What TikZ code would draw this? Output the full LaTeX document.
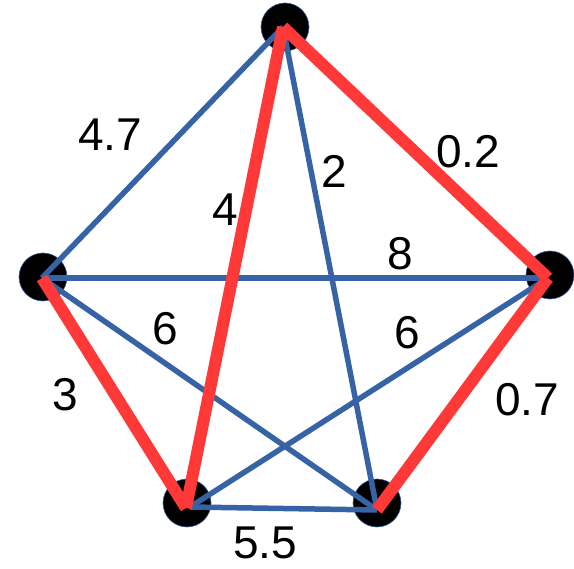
\documentclass[tikz,border=0pt]{standalone}
\usepackage{fontspec}
\setmainfont{Liberation Sans}
\definecolor{eblue}{RGB}{54,99,165}
\definecolor{ered}{RGB}{255,56,56}
\begin{document}
\begin{tikzpicture}[x=1pt,y=-1pt,
  dot/.style={circle,fill=black,draw=eblue,line width=0.6pt,minimum size=48pt,inner sep=0pt},
  bedge/.style={draw=eblue,line width=5.5pt},
  redge/.style={draw=ered,line width=12pt},
  wlab/.style={font=\fontsize{46}{46}\selectfont,inner sep=0pt,text=black}]
\useasboundingbox (0,0) rectangle (574,569);
% vertices
\node[dot] (T) at (285,27) {};
\node[dot] (L) at (43,277) {};
\node[dot] (R) at (550,275) {};
\node[dot] (BL) at (187,503) {};
\node[dot] (BR) at (377,503) {};
% line end points
\coordinate (t) at (283,27);
\coordinate (l) at (42,278);
\coordinate (r) at (548,278);
\coordinate (blr) at (186,508);
\coordinate (blb) at (190,507);
\coordinate (br) at (377,510);
% blue edges
\draw[bedge] (t) -- (l);
\draw[bedge] (t) -- (br);
\draw[bedge] (l) -- (r);
\draw[bedge] (l) -- (br);
\draw[bedge] (r) -- (blb);
\draw[bedge] (blb) -- (br);
% red edges
\draw[redge] (t) -- (blr);
\draw[redge] (t) -- (r);
\draw[redge] (l) -- (blr);
\draw[redge] (r) -- (br);
% weights
\node[wlab] (w47) at (110,135) {4.7};
\node[wlab] (w02) at (468,152) {0.2};
\node[wlab] (w2) at (334,171) {2};
\node[wlab] (w4) at (225,210) {4};
\node[wlab] (w8) at (400,254) {8};
\node[wlab] (w6a) at (165,329) {6};
\node[wlab] (w6b) at (407,333) {6};
\node[wlab] (w3) at (65,395) {3};
\node[wlab] (w07) at (527,400) {0.7};
\node[wlab] (w55) at (265,543) {5.5};
\end{tikzpicture}
\end{document}
